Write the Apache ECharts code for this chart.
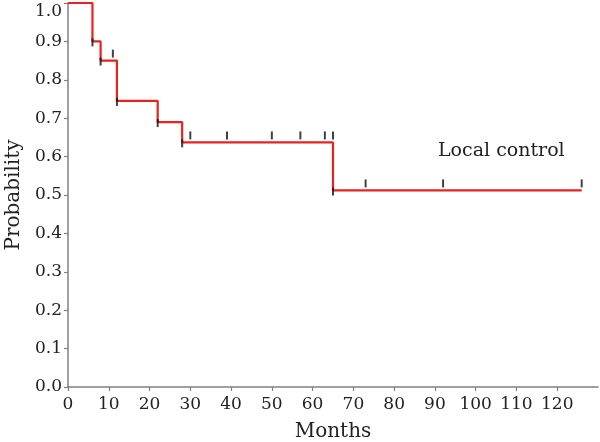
<!DOCTYPE html>
<html><head><meta charset="utf-8">
<script src="https://cdn.jsdelivr.net/npm/echarts@6/dist/echarts.min.js"></script>
<style>html,body{margin:0;padding:0;background:#fff}#c{width:600px;height:442px}</style>
</head><body><div id="c"></div>
<script>
var stepTimes = [0, 6, 8, 12, 22, 28, 65, 126];
var stepSurv = [1.0, 0.9, 0.85, 0.745, 0.69, 0.637, 0.512, 0.512];
var dropTickTimes = [6, 8, 12, 22, 28, 65];
var dropTickSurv = [0.9, 0.85, 0.745, 0.69, 0.637, 0.512];
var censorTimes = [11, 30, 39, 50, 57, 63, 65, 73, 92, 126];
var censorSurv = [0.85, 0.637, 0.637, 0.637, 0.637, 0.637, 0.637, 0.512, 0.512, 0.512];
var xTicks = [0, 10, 20, 30, 40, 50, 60, 70, 80, 90, 100, 110, 120, 130];
var yTicks = [0.0, 0.1, 0.2, 0.3, 0.4, 0.5, 0.6, 0.7, 0.8, 0.9, 1.0];

function zip(a, b) { return a.map(function (v, i) { return [v, b[i]]; }); }
var FONT = 'DejaVu Serif';
var chart = echarts.init(document.getElementById('c'), null, {renderer: 'canvas'});
chart.setOption({
  animation: false,
  grid: {left: 68, right: 2, top: 3, bottom: 55, containLabel: false, outerBoundsMode: 'none'},
  xAxis: {
    type: 'value', min: xTicks[0], max: xTicks[xTicks.length - 1], interval: 10,
    name: 'Months', nameLocation: 'middle', nameGap: 35,
    nameTextStyle: {fontFamily: FONT, fontSize: 20, color: '#222'},
    axisLine: {lineStyle: {color: '#808080', width: 1.5}},
    axisTick: {show: true, length: 4, lineStyle: {color: '#808080', width: 1.2}},
    axisLabel: {fontFamily: FONT, fontSize: 17, color: '#222', margin: 9, showMaxLabel: false},
    splitLine: {show: false}
  },
  yAxis: {
    type: 'value', min: yTicks[0], max: yTicks[yTicks.length - 1], interval: 0.1,
    name: 'Probability', nameLocation: 'middle', nameGap: 44,
    nameTextStyle: {fontFamily: FONT, fontSize: 20, color: '#222'},
    axisLine: {show: true, lineStyle: {color: '#808080', width: 1.5}},
    axisTick: {show: true, length: 4, lineStyle: {color: '#808080', width: 1.2}},
    axisLabel: {fontFamily: FONT, fontSize: 17, color: '#222', margin: 6,
      verticalAlignMaxLabel: 'top',
      formatter: function (v) { return v.toFixed(1); }},
    splitLine: {show: false}
  },
  series: [
    {type: 'line', step: 'end', data: zip(stepTimes, stepSurv), showSymbol: false,
     lineStyle: {color: '#e8231f', width: 2.2}, z: 2},
    {type: 'scatter', data: zip(dropTickTimes, dropTickSurv), symbol: 'rect',
     symbolSize: [2, 8], symbolOffset: [0, 1], itemStyle: {color: '#111'}, z: 3},
    {type: 'scatter', data: zip(censorTimes, censorSurv), symbol: 'rect',
     symbolSize: [2, 8], symbolOffset: [0, -7], itemStyle: {color: '#111'}, z: 3}
  ],
  graphic: [{type: 'text', left: 438, top: 142,
    style: {text: 'Local control', fontFamily: FONT, fontSize: 19, fill: '#222'}}]
});
</script></body></html>
